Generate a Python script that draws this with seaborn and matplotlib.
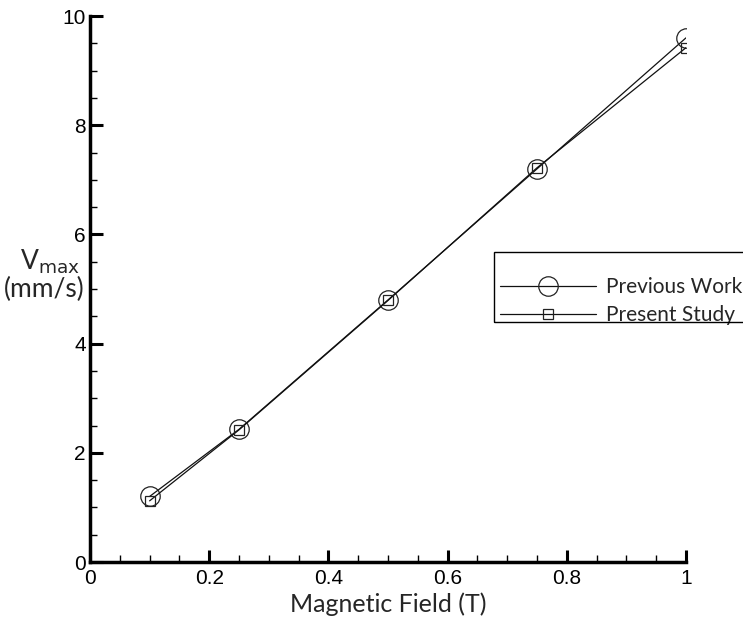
import matplotlib
matplotlib.use("Agg")
import matplotlib.pyplot as plt
from matplotlib.ticker import MultipleLocator
from matplotlib.patches import Rectangle
import seaborn as sns
import pandas as pd

field = [0.1, 0.25, 0.5, 0.75, 1.0]
previous_work = [1.2, 2.43, 4.8, 7.2, 9.6]
present_study = [1.12, 2.42, 4.79, 7.22, 9.42]
x_ticks = [0, 0.2, 0.4, 0.6, 0.8, 1.0]
x_tick_labels = ["0", "0.2", "0.4", "0.6", "0.8", "1"]
y_ticks = [0, 2, 4, 6, 8, 10]
y_tick_labels = ["0", "2", "4", "6", "8", "10"]

sns.set_style("ticks")
plt.rcParams["font.family"] = ["Liberation Sans", "DejaVu Sans"]
label_font = ["Lato", "DejaVu Sans"]

df = pd.DataFrame({"field": field, "prev": previous_work, "pres": present_study})

W, H = 743, 619
fig = plt.figure(figsize=(W / 100, H / 100), dpi=100)
ax = fig.add_axes([90 / W, 57 / H, 596 / W, 546 / H])

sns.lineplot(data=df, x="field", y="prev", ax=ax, color="#111111", lw=0.9,
             marker="o", markersize=14, markerfacecolor="none",
             markeredgecolor="#222222", markeredgewidth=0.9, label="Previous Work")
sns.lineplot(data=df, x="field", y="pres", ax=ax, color="#111111", lw=0.9,
             marker="s", markersize=7, markerfacecolor="none",
             markeredgecolor="#222222", markeredgewidth=0.9, label="Present Study")

ax.set_xlim(0, 1)
ax.set_ylim(0, 10)
ax.set_xticks(x_ticks)
ax.set_xticklabels(x_tick_labels)
ax.set_yticks(y_ticks)
ax.set_yticklabels(y_tick_labels)
ax.xaxis.set_minor_locator(MultipleLocator(0.05))
ax.yaxis.set_minor_locator(MultipleLocator(0.5))

for side in ["top", "right"]:
    ax.spines[side].set_visible(False)
for side in ["left", "bottom"]:
    ax.spines[side].set_linewidth(2.5)
    ax.spines[side].set_color("black")

ax.tick_params(which="major", direction="in", length=9, width=2.2, labelsize=15,
               colors="black", pad=5)
ax.tick_params(which="minor", direction="in", length=5, width=1, colors="black")
ax.tick_params(axis="y", pad=3)

ax.set_xlabel("Magnetic Field (T)", fontsize=18, family=label_font, labelpad=3)
ax.set_ylabel("")
fig.text(50 / W, (H - 262) / H, r"V$_{\rm max}$", ha="center", va="center",
         fontsize=19, family=label_font)
fig.text(44 / W, (H - 289) / H, "(mm/s)", ha="center", va="center",
         fontsize=19, family=label_font)

# legend box drawn as a plain rectangle running off the right edge
fig.patches.append(Rectangle((494 / W, (H - 322) / H), 300 / W, 70 / H,
                             transform=fig.transFigure, fill=False,
                             edgecolor="black", lw=1.0))
leg = ax.legend(loc="upper left", bbox_to_anchor=(494 / W, (H - 271) / H),
                bbox_transform=fig.transFigure, frameon=False,
                handlelength=4.6, handletextpad=0.5,
                borderpad=0.3, borderaxespad=0, labelspacing=0.38,
                prop={"family": label_font, "size": 15})

fig.savefig("out.png", dpi=100)
